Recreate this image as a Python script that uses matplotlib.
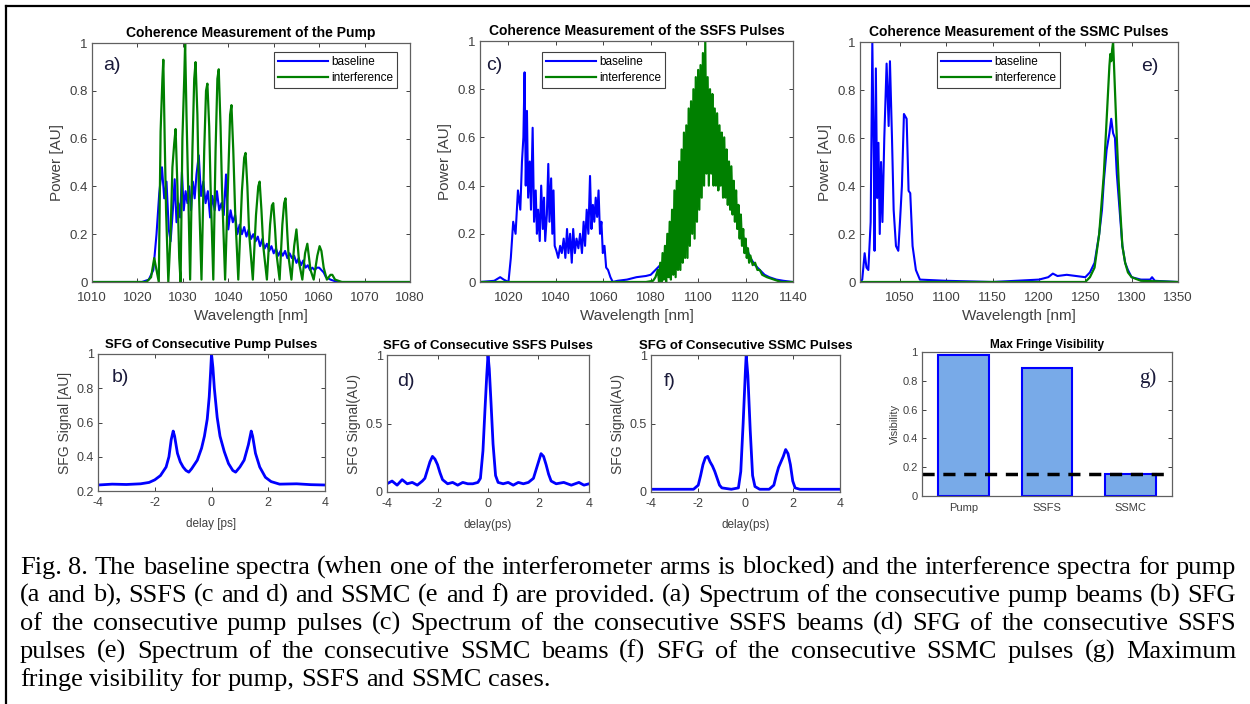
import numpy as np
import matplotlib
matplotlib.use("Agg")
import matplotlib.pyplot as plt
from matplotlib.lines import Line2D

plt.rcParams["font.family"] = ["Liberation Sans", "DejaVu Sans"]
plt.rcParams["axes.unicode_minus"] = False

# ----------------------------- data -----------------------------
# (a) pump spectrum: (wavelength nm, power AU)
pump_baseline = np.array([
    (1010, 0), (1021, 0), (1022.5, 0.01), (1023.5, 0.05), (1024.2, 0.2), (1024.8, 0.37), (1025.4, 0.48),
    (1025.9, 0.35), (1026.4, 0.42), (1026.9, 0.22), (1027.3, 0.17), (1027.8, 0.3), (1028.2, 0.43),
    (1028.6, 0.25), (1029.0, 0.33), (1029.4, 0.27), (1029.8, 0.46), (1030.2, 0.3), (1030.6, 0.38),
    (1031.0, 0.33), (1031.4, 0.40), (1031.8, 0.3), (1032.2, 0.42), (1032.6, 0.35), (1033.0, 0.45),
    (1033.5, 0.53), (1034.0, 0.36), (1034.5, 0.42), (1035.0, 0.33), (1035.5, 0.38), (1036.0, 0.27),
    (1036.5, 0.36), (1037.0, 0.3), (1037.5, 0.38), (1038.0, 0.3), (1038.5, 0.33), (1039.0, 0.28),
    (1039.5, 0.45), (1040.0, 0.22), (1040.5, 0.3), (1041.0, 0.25), (1041.5, 0.28), (1042.0, 0.2),
    (1042.5, 0.24), (1043.0, 0.2), (1043.5, 0.23), (1044.0, 0.19), (1044.5, 0.22), (1045.0, 0.18),
    (1045.5, 0.2), (1046.0, 0.17), (1046.5, 0.19), (1047.0, 0.15), (1047.5, 0.18), (1048.0, 0.14),
    (1048.5, 0.16), (1049.0, 0.13), (1049.5, 0.15), (1050.0, 0.12), (1050.5, 0.14), (1051.0, 0.11),
    (1051.5, 0.13), (1052.0, 0.11), (1052.5, 0.13), (1053.0, 0.1), (1053.5, 0.12), (1054.0, 0.1),
    (1054.5, 0.11), (1055.0, 0.08), (1055.5, 0.1), (1056.0, 0.07), (1056.5, 0.09), (1057.0, 0.06),
    (1057.5, 0.07), (1058.0, 0.05), (1058.5, 0.06), (1059.0, 0.05), (1059.5, 0.06), (1060.0, 0.06),
    (1060.5, 0.05), (1061.0, 0.04), (1061.5, 0.02), (1062.5, 0.01), (1064, 0), (1080, 0)])
pump_interf = np.array([
    (1010, 0), (1022, 0), (1023, 0.02), (1023.7, 0.1), (1024.2, 0.05), (1024.7, 0.0), (1025.1, 0.63),
    (1025.5, 0.85), (1025.7, 0.93), (1026.0, 0.6), (1026.3, 0.3), (1026.8, 0.0), (1027.3, 0.2),
    (1027.7, 0.48), (1028.1, 0.58), (1028.4, 0.64), (1028.8, 0.4), (1029.2, 0.1), (1029.5, 0.0),
    (1029.9, 0.6), (1030.3, 0.85), (1030.5, 1.0), (1030.8, 0.7), (1031.1, 0.45), (1031.6, 0.01),
    (1032.1, 0.55), (1032.5, 0.85), (1032.8, 0.92), (1033.2, 0.7), (1033.5, 0.4), (1034.1, 0.01),
    (1034.7, 0.55), (1035.1, 0.8), (1035.4, 0.83), (1035.8, 0.65), (1036.1, 0.4), (1036.7, 0.01),
    (1037.2, 0.55), (1037.6, 0.85), (1037.9, 0.89), (1038.3, 0.65), (1038.6, 0.4), (1039.3, 0.01),
    (1040.0, 0.45), (1040.4, 0.7), (1040.7, 0.74), (1041.1, 0.55), (1041.5, 0.3), (1042.2, 0.01),
    (1043.0, 0.38), (1043.5, 0.52), (1043.8, 0.54), (1044.2, 0.4), (1044.6, 0.2), (1045.4, 0.01),
    (1046.1, 0.28), (1046.6, 0.4), (1046.9, 0.42), (1047.3, 0.3), (1047.7, 0.15), (1048.5, 0.01),
    (1049.2, 0.24), (1049.6, 0.32), (1049.9, 0.33), (1050.3, 0.22), (1050.6, 0.12), (1051.3, 0.01),
    (1051.9, 0.24), (1052.3, 0.33), (1052.6, 0.35), (1053.0, 0.2), (1053.3, 0.1), (1053.9, 0.01),
    (1054.5, 0.15), (1055.0, 0.22), (1055.6, 0.08), (1056.3, 0.01), (1056.9, 0.12), (1057.4, 0.16),
    (1058.1, 0.05), (1058.8, 0.01), (1059.6, 0.11), (1060.1, 0.15), (1060.5, 0.13), (1061.0, 0.06),
    (1061.7, 0.01), (1062.5, 0.03), (1062.9, 0.03), (1063.5, 0.01), (1065, 0), (1080, 0)])

# (c) SSFS spectrum
ssfs_baseline = np.array([
    (1008, 0.0), (1014, 0.005), (1016.5, 0.02), (1018, 0.01), (1020, 0.0), (1021, 0.1), (1022, 0.25),
    (1023, 0.2), (1024, 0.38), (1025, 0.3), (1025.7, 0.5), (1026.3, 0.6), (1026.8, 0.87), (1027.3, 0.4),
    (1027.8, 0.71), (1028.3, 0.35), (1029, 0.5), (1029.5, 0.3), (1030.2, 0.64), (1030.8, 0.25),
    (1031.5, 0.38), (1032, 0.2), (1032.5, 0.3), (1033.2, 0.17), (1033.8, 0.4), (1034.5, 0.22),
    (1035, 0.35), (1035.5, 0.17), (1036.2, 0.28), (1036.8, 0.49), (1037.3, 0.25), (1038, 0.43),
    (1038.5, 0.2), (1039, 0.38), (1039.5, 0.15), (1040.2, 0.13), (1041, 0.1), (1041.8, 0.15),
    (1042.5, 0.12), (1043.3, 0.18), (1044, 0.1), (1044.7, 0.22), (1045.3, 0.12), (1046, 0.2),
    (1046.7, 0.08), (1047.3, 0.22), (1048, 0.12), (1048.7, 0.18), (1049.5, 0.14), (1050.2, 0.2),
    (1051, 0.12), (1051.7, 0.25), (1052.3, 0.15), (1053, 0.3), (1053.7, 0.2), (1054.4, 0.44),
    (1055, 0.22), (1055.6, 0.32), (1056.2, 0.25), (1056.8, 0.35), (1057.4, 0.27), (1058, 0.38),
    (1058.6, 0.2), (1059.2, 0.25), (1059.8, 0.12), (1060.5, 0.15), (1061.2, 0.06), (1062, 0.05),
    (1063, 0.02), (1064, 0.0), (1066, 0.005), (1070, 0.01), (1074, 0.02), (1078, 0.025), (1080, 0.03),
    (1082, 0.05), (1084, 0.07), (1086, 0.08), (1088, 0.1), (1090, 0.14), (1092, 0.2), (1094, 0.28),
    (1096, 0.38), (1098, 0.45), (1100, 0.5), (1101, 0.55), (1102, 0.56), (1103, 0.6), (1104, 0.65),
    (1105, 0.6), (1106, 0.62), (1107, 0.58), (1108, 0.55), (1110, 0.5), (1112, 0.45), (1114, 0.4),
    (1116, 0.32), (1118, 0.22), (1120, 0.15), (1122, 0.1), (1124, 0.07), (1126, 0.05), (1128, 0.03),
    (1130, 0.02), (1133, 0.01), (1136, 0.005), (1140, 0)])
ssfs_interf = np.array([
    (1008, 0), (1078, 0), (1081, 0.005), (1082, 0.02), (1083, 0.05), (1083.5, 0.0), (1084, 0.08),
    (1084.5, 0.0), (1085, 0.12), (1085.5, 0.01), (1086, 0.15), (1086.5, 0.0), (1087, 0.2), (1087.5, 0.02),
    (1088, 0.25), (1088.5, 0.01), (1089, 0.3), (1089.5, 0.03), (1090, 0.38), (1090.5, 0.02), (1091, 0.42),
    (1091.5, 0.05), (1092, 0.5), (1092.5, 0.05), (1093, 0.55), (1093.5, 0.08), (1094, 0.62), (1094.5, 0.1),
    (1095, 0.65), (1095.5, 0.1), (1096, 0.72), (1096.5, 0.15), (1097, 0.75), (1097.5, 0.2), (1098, 0.8),
    (1098.5, 0.18), (1099, 0.85), (1099.5, 0.25), (1100, 0.88), (1100.5, 0.3), (1101, 0.9), (1101.5, 0.35),
    (1102, 0.95), (1102.5, 0.4), (1103, 1.0), (1103.5, 0.45), (1104, 0.85), (1104.5, 0.4), (1105, 0.8),
    (1105.5, 0.45), (1106, 0.78), (1106.5, 0.4), (1107, 0.72), (1107.5, 0.4), (1108, 0.7), (1108.5, 0.38),
    (1109, 0.65), (1109.5, 0.4), (1110, 0.62), (1110.5, 0.35), (1111, 0.6), (1111.5, 0.35), (1112, 0.55),
    (1112.5, 0.32), (1113, 0.5), (1113.5, 0.3), (1114, 0.48), (1114.5, 0.28), (1115, 0.42), (1115.5, 0.25),
    (1116, 0.38), (1116.5, 0.22), (1117, 0.32), (1117.5, 0.18), (1118, 0.28), (1118.5, 0.15), (1119, 0.22),
    (1119.5, 0.12), (1120, 0.18), (1120.5, 0.1), (1121, 0.14), (1121.5, 0.08), (1122, 0.11), (1123, 0.07),
    (1124, 0.08), (1125, 0.05), (1126, 0.05), (1127, 0.03), (1129, 0.02), (1132, 0.01), (1135, 0.0),
    (1140, 0)])

# (e) SSMC spectrum
ssmc_baseline = np.array([
    (1007, 0.0), (1009.4, 0.01), (1012, 0.12), (1014, 0.06), (1016, 0.05), (1018.5, 0.25), (1020.3, 1.0),
    (1022, 0.5), (1022.7, 0.13), (1024.1, 0.89), (1025.5, 0.35), (1026.9, 0.58), (1028.3, 0.2),
    (1029.7, 0.5), (1031.2, 0.25), (1033.2, 0.6), (1035.7, 0.91), (1037.9, 0.65), (1039.3, 0.92),
    (1041.5, 0.6), (1043.3, 0.3), (1045.8, 0.15), (1048.3, 0.13), (1050.1, 0.25), (1052.2, 0.4),
    (1054.4, 0.7), (1057.3, 0.68), (1059.4, 0.38), (1061.2, 0.37), (1063.7, 0.15), (1067.3, 0.05),
    (1071.6, 0.01), (1100, 0.005), (1150, 0), (1200, 0.01), (1210, 0.02), (1215, 0.035), (1220, 0.025),
    (1230, 0.03), (1240, 0.025), (1250, 0.02), (1255, 0.04), (1260, 0.08), (1265, 0.2), (1268, 0.3),
    (1270, 0.42), (1273, 0.55), (1276, 0.62), (1278, 0.68), (1280, 0.62), (1282, 0.6), (1284, 0.45),
    (1287, 0.3), (1290, 0.15), (1293, 0.08), (1296, 0.05), (1300, 0.02), (1310, 0.01), (1320, 0.01),
    (1322, 0.02), (1325, 0.005), (1350, 0)])
ssmc_interf = np.array([
    (1007, 0), (1250, 0), (1255, 0.02), (1260, 0.06), (1265, 0.2), (1268, 0.35), (1270, 0.45),
    (1272, 0.6), (1274, 0.75), (1276, 0.9), (1277, 0.95), (1278, 0.92), (1279, 0.97), (1280, 1.0),
    (1281, 0.9), (1282, 0.8), (1284, 0.6), (1286, 0.42), (1288, 0.28), (1290, 0.15), (1293, 0.08),
    (1296, 0.04), (1300, 0.02), (1310, 0.005), (1350, 0)])

# (b, d, f) SFG traces: (delay ps, signal AU)
sfg_pump = np.array([
    (-4, 0.235), (-3.5, 0.24), (-3, 0.238), (-2.5, 0.242), (-2.2, 0.25), (-2, 0.265), (-1.8, 0.29),
    (-1.6, 0.34), (-1.5, 0.4), (-1.42, 0.5), (-1.35, 0.55), (-1.3, 0.52), (-1.2, 0.42), (-1.1, 0.37),
    (-1.0, 0.34), (-0.9, 0.32), (-0.8, 0.31), (-0.7, 0.33), (-0.5, 0.38), (-0.35, 0.45), (-0.25, 0.52),
    (-0.15, 0.62), (-0.08, 0.75), (-0.03, 0.9), (0, 1.0), (0.05, 0.92), (0.1, 0.8), (0.2, 0.63),
    (0.3, 0.52), (0.45, 0.43), (0.6, 0.36), (0.75, 0.32), (0.85, 0.31), (1.0, 0.34), (1.15, 0.38),
    (1.3, 0.47), (1.4, 0.55), (1.45, 0.52), (1.55, 0.42), (1.7, 0.34), (1.9, 0.28), (2.1, 0.255),
    (2.4, 0.24), (3, 0.242), (3.5, 0.237), (4, 0.235)])
sfg_ssfs = np.array([
    (-4, 0.06), (-3.8, 0.08), (-3.6, 0.05), (-3.4, 0.09), (-3.2, 0.06), (-3, 0.07), (-2.8, 0.05),
    (-2.6, 0.08), (-2.5, 0.1), (-2.4, 0.16), (-2.3, 0.22), (-2.2, 0.26), (-2.1, 0.24), (-2.0, 0.2),
    (-1.9, 0.14), (-1.8, 0.09), (-1.6, 0.06), (-1.4, 0.07), (-1.2, 0.05), (-1.0, 0.07), (-0.8, 0.06),
    (-0.6, 0.06), (-0.4, 0.07), (-0.3, 0.1), (-0.2, 0.3), (-0.12, 0.6), (-0.05, 0.85), (0, 1.0),
    (0.05, 0.9), (0.12, 0.65), (0.2, 0.35), (0.3, 0.12), (0.4, 0.07), (0.6, 0.06), (0.8, 0.07),
    (1.0, 0.05), (1.2, 0.07), (1.4, 0.06), (1.6, 0.07), (1.8, 0.1), (1.9, 0.16), (2.0, 0.22),
    (2.1, 0.28), (2.2, 0.26), (2.3, 0.2), (2.4, 0.13), (2.5, 0.08), (2.7, 0.06), (3, 0.07),
    (3.3, 0.05), (3.6, 0.07), (3.8, 0.05), (4, 0.06)])
sfg_ssmc = np.array([
    (-4, 0.02), (-2.2, 0.02), (-2.0, 0.05), (-1.9, 0.12), (-1.8, 0.2), (-1.7, 0.25), (-1.6, 0.26),
    (-1.5, 0.22), (-1.4, 0.19), (-1.3, 0.15), (-1.2, 0.1), (-1.1, 0.05), (-1.0, 0.03), (-0.6, 0.02),
    (-0.3, 0.03), (-0.2, 0.15), (-0.1, 0.5), (0, 0.9), (0.03, 1.0), (0.1, 0.85), (0.2, 0.45),
    (0.3, 0.12), (0.4, 0.04), (0.6, 0.02), (1.0, 0.02), (1.2, 0.05), (1.3, 0.12), (1.4, 0.18),
    (1.5, 0.22), (1.6, 0.26), (1.7, 0.31), (1.8, 0.28), (1.9, 0.2), (2.0, 0.08), (2.1, 0.03),
    (2.3, 0.02), (4, 0.02)])

# (g) fringe visibility
vis_cases = ["Pump", "SSFS", "SSMC"]
vis_values = [0.98, 0.89, 0.15]
vis_threshold = 0.15

unit_ticks = [0, 0.2, 0.4, 0.6, 0.8, 1]
unit_labels = ["0", "0.2", "0.4", "0.6", "0.8", "1"]
delay_ticks = [-4, -2, 0, 2, 4]
delay_labels = ["-4", "-2", "0", "2", "4"]

caption_lines = [
    "Fig. 8. The baseline spectra (when one of the interferometer arms is blocked) and the interference spectra for pump",
    "(a and b), SSFS (c and d) and SSMC (e and f) are provided. (a) Spectrum of the consecutive pump beams (b) SFG",
    "of the consecutive pump pulses (c) Spectrum of the consecutive SSFS beams (d) SFG of the consecutive SSFS",
    "pulses (e) Spectrum of the consecutive SSMC beams (f) SFG of the consecutive SSMC pulses (g) Maximum",
    "fringe visibility for pump, SSFS and SSMC cases.",
]

BLUE, GREEN = "#0000ff", "#008000"
GRAY = "#404040"
W, H = 1250, 704


def px_axes(fig, l, t, r, b):
    return fig.add_axes([l / W, 1 - b / H, (r - l) / W, (b - t) / H])


def style(ax, xt, xtl, yt, ytl, fs, xpad=3):
    ax.set_xticks(xt); ax.set_xticklabels(xtl)
    ax.set_yticks(yt); ax.set_yticklabels(ytl)
    ax.tick_params(direction="in", top=True, right=True, length=3, width=0.7, colors=GRAY, labelsize=fs, pad=3)
    ax.tick_params(axis="x", pad=xpad)
    for s in ax.spines.values():
        s.set_color("#606060"); s.set_linewidth(0.9)


def tag(ax, x, y, s, **kw):
    ax.text(x, y, s, transform=ax.transAxes, fontsize=14, color="#1a1a3a", va="center", ha="left", **kw)


fig = plt.figure(figsize=(W / 100, H / 100), dpi=100)

# ----------------------------- top row: spectra -----------------------------
spectra = [
    ((92, 43, 410, 282), pump_baseline, pump_interf, (1010, 1080), list(range(1010, 1081, 10)),
     "Coherence Measurement of the Pump", (0.572, 0.962), "a)", (0.035, 0.905)),
    ((480, 41, 793, 282), ssfs_baseline, ssfs_interf, (1008, 1140), list(range(1020, 1141, 20)),
     "Coherence Measurement of the SSFS Pulses", (0.198, 0.955), "c)", (0.018, 0.9)),
    ((860, 42, 1178, 282), ssmc_baseline, ssmc_interf, (1007, 1350), list(range(1050, 1351, 50)),
     "Coherence Measurement of the SSMC Pulses", (0.242, 0.958), "e)", (0.885, 0.9)),
]
for box, base, intf, xl, xt, title, leg_xy, lab, lab_xy in spectra:
    ax = px_axes(fig, *box)
    ax.plot(base[:, 0], base[:, 1], color=BLUE, lw=1.5, label="baseline")
    ax.plot(intf[:, 0], intf[:, 1], color=GREEN, lw=1.6, label="interference")
    ax.set_xlim(*xl); ax.set_ylim(0, 1)
    style(ax, xt, [str(v) for v in xt], unit_ticks, unit_labels, 9.5, xpad=7)
    ax.set_title(title, fontsize=10, fontweight="bold", pad=4)
    ax.set_xlabel("Wavelength [nm]", fontsize=11, color=GRAY, labelpad=4)
    ax.set_ylabel("Power [AU]", fontsize=11, color=GRAY, labelpad=4)
    leg = ax.legend(loc="upper left", bbox_to_anchor=leg_xy, fontsize=8.5, fancybox=False, framealpha=1,
                    edgecolor="#404040", handlelength=4.2, handletextpad=0.3, borderpad=0.35,
                    labelspacing=0.35, borderaxespad=0)
    leg.get_frame().set_linewidth(0.8)
    tag(ax, lab_xy[0], lab_xy[1], lab)

# ----------------------------- bottom row: SFG traces -----------------------------
sfg = [
    ((98, 354, 325, 491), sfg_pump, (0.2, 1), [0.2, 0.4, 0.6, 0.8, 1], ["0.2", "0.4", "0.6", "0.8", "1"],
     "SFG of Consecutive Pump Pulses", "SFG Signal [AU]", "delay [ps]", "b)", (0.06, 0.83)),
    ((387, 355, 589, 492), sfg_ssfs, (0, 1), [0, 0.5, 1], ["0", "0.5", "1"],
     "SFG of Consecutive SSFS Pulses", "SFG Signal(AU)", "delay(ps)", "d)", (0.05, 0.81)),
    ((651, 355, 840, 492), sfg_ssmc, (0, 1), [0, 0.5, 1], ["0", "0.5", "1"],
     "SFG of Consecutive SSMC Pulses", "SFG Signal(AU)", "delay(ps)", "f)", (0.065, 0.81)),
]
for box, tr, yl, yt, ytl, title, ylab, xlab, lab, lab_xy in sfg:
    ax = px_axes(fig, *box)
    ax.plot(tr[:, 0], tr[:, 1], color=BLUE, lw=2)
    ax.set_xlim(-4, 4); ax.set_ylim(*yl)
    style(ax, delay_ticks, delay_labels, yt, ytl, 9, xpad=4)
    ax.set_title(title, fontsize=9.5, fontweight="bold", pad=4)
    ax.set_xlabel(xlab, fontsize=8.5, color=GRAY, labelpad=7)
    ax.set_ylabel(ylab, fontsize=10, color=GRAY, labelpad=3)
    tag(ax, lab_xy[0], lab_xy[1], lab)

# ----------------------------- (g) visibility bars -----------------------------
ax = px_axes(fig, 922, 352, 1172, 496)
pos = np.arange(1, len(vis_cases) + 1)
ax.bar(pos, vis_values, width=0.61, color="#78aae8", edgecolor=BLUE, linewidth=1.5)
ax.axhline(vis_threshold, color="black", lw=2.5, ls=(0, (3.5, 2.5)))
ax.set_xlim(0.5, 3.5); ax.set_ylim(0, 1)
style(ax, pos, vis_cases, unit_ticks, unit_labels, 8, xpad=5)
ax.tick_params(axis="x", length=0)
ax.set_title("Max Fringe Visibility", fontsize=8.5, fontweight="bold", pad=3)
ax.set_ylabel("Visibility", fontsize=8, color=GRAY, labelpad=2)
ax.text(0.87, 0.82, "g)", transform=ax.transAxes, fontsize=15, color="#1a1a3a", va="center",
        family=["Liberation Serif", "DejaVu Serif"])

# ----------------------------- caption (justified) -----------------------------
cap_fs = 19
r = fig.canvas.get_renderer()
x0, x1 = 20 / W, 1236 / W
space = 0.25 * cap_fs / 72 * 100 / W
for i, line in enumerate(caption_lines):
    y = 1 - (574 + 28 * i) / H
    words = line.split()
    ts = [fig.text(0, y, w, fontsize=cap_fs, family=["Liberation Serif", "DejaVu Serif"], va="baseline")
          for w in words]
    ws = [t.get_window_extent(r).width / W for t in ts]
    gap = (x1 - x0 - sum(ws)) / (len(words) - 1) if i < len(caption_lines) - 1 else space
    x = x0
    for t, w in zip(ts, ws):
        t.set_x(x); x += w + gap

# frame around the figure (top and left edges only, as in the page)
fig.add_artist(Line2D([6 / W, 1], [1 - 6 / H] * 2, color="black", lw=1.6, transform=fig.transFigure))
fig.add_artist(Line2D([6 / W] * 2, [0, 1 - 6 / H], color="black", lw=1.6, transform=fig.transFigure))

fig.savefig("out.png", dpi=100)
